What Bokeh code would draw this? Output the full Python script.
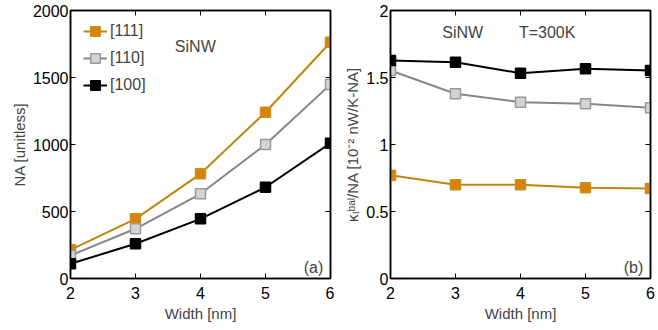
from bokeh.plotting import figure
from bokeh.layouts import row
from bokeh.models import (Legend, LegendItem, Label, LinearAxis, FixedTicker,
                          CustomJSTickFormatter, Range1d)
from bokeh.embed import file_html
from bokeh.resources import INLINE

width_nm = [2, 3, 4, 5, 6]
na_111 = [214, 445, 781, 1241, 1763]
na_110 = [172, 371, 632, 1000, 1448]
na_100 = [110, 259, 445, 681, 1010]
k_111 = [0.77, 0.70, 0.70, 0.678, 0.671]
k_110 = [1.552, 1.379, 1.316, 1.304, 1.274]
k_100 = [1.627, 1.614, 1.532, 1.565, 1.552]
series_names = ["[111]", "[110]", "[100]"]
x_ticks = [2, 3, 4, 5, 6]
y_ticks_a = [0, 500, 1000, 1500, 2000]
y_ticks_b = [0, 0.5, 1, 1.5, 2]

styles = {
    "[111]": dict(line="#C0860C", fill="#D9820A", edge="#C8901E"),
    "[110]": dict(line="#878787", fill="#D4D4D4", edge="#9A9A9A"),
    "[100]": dict(line="#000000", fill="#000000", edge="#000000"),
}

FONT = "Liberation Sans"
fmt = CustomJSTickFormatter(code="return tick.toString();")


def make_fig(fw, fh, bl, br, yr, yticks, ylabel):
    p = figure(frame_width=fw, frame_height=fh, output_backend="svg", toolbar_location=None,
               x_range=Range1d(2, 6), y_range=Range1d(*yr),
               min_border_left=bl, min_border_right=br, min_border_top=10,
               min_border_bottom=48, x_axis_location=None, y_axis_location=None)
    p.grid.visible = False
    p.outline_line_color = "black"
    p.outline_line_width = 1.5
    p.background_fill_color = "white"
    p.border_fill_color = "white"
    for loc in ["below", "left", "above", "right"]:
        ticks = x_ticks if loc in ("below", "above") else yticks
        ax = LinearAxis(ticker=FixedTicker(ticks=ticks), formatter=fmt)
        ax.major_tick_in = 5
        ax.major_tick_out = 0
        ax.minor_tick_line_color = None
        ax.axis_line_color = "black"
        ax.axis_line_width = 1.5
        ax.major_tick_line_color = "black"
        ax.major_tick_line_width = 1
        ax.major_label_text_font = FONT
        ax.major_label_text_font_size = "16px"
        ax.major_label_text_color = "black"
        ax.major_label_standoff = 2
        ax.axis_label_text_font = FONT
        ax.axis_label_text_font_size = "15px"
        ax.axis_label_text_font_style = "normal"
        ax.axis_label_standoff = 2
        if loc == "below":
            ax.axis_label = "Width [nm]"
            ax.major_label_standoff = 8
            ax.axis_label_standoff = 3
        elif loc == "left":
            ax.axis_label = ylabel
        else:
            ax.major_label_text_font_size = "0px"
            ax.major_label_text_color = None
            ax.major_label_standoff = 0
            ax.axis_label_standoff = 0
        p.add_layout(ax, loc)
    return p


def add_series(p, ys_list, legend=False):
    items = []
    for name, ys in zip(series_names, ys_list):
        st = styles[name]
        ln = p.line(width_nm, ys, line_color=st["line"], line_width=2)
        mk = p.scatter(width_nm, ys, marker="square", size=10,
                       fill_color=st["fill"], line_color=st["edge"], line_width=1.5)
        items.append(LegendItem(label=name, renderers=[ln, mk]))
    if legend:
        lg = Legend(items=items, location=(13, 180))
        lg.border_line_color = None
        lg.background_fill_alpha = 0
        lg.label_text_font = FONT
        lg.label_text_font_size = "16px"
        lg.glyph_width = 24
        lg.glyph_height = 26
        lg.label_height = 26
        lg.spacing = 1
        lg.padding = 0
        lg.margin = 0
        lg.label_standoff = 3
        p.add_layout(lg)


pa = make_fig(260, 268, 70, 4, (0, 2000), y_ticks_a, "NA [unitless]")
add_series(pa, [na_111, na_110, na_100], legend=True)
pa.add_layout(Label(x=3.92, y=1735, text="SiNW", text_font=FONT,
                    text_font_size="16px", text_align="center", text_baseline="middle"))
pa.add_layout(Label(x=5.89, y=22, text="(a)", text_font=FONT,
                    text_font_size="16px", text_align="right", text_baseline="bottom"))

pb = make_fig(260, 268, 56, 7, (0, 2), y_ticks_b,
              "κₗᵇᵃˡ/NA [10⁻² nW/K-NA]")
add_series(pb, [k_111, k_110, k_100])
pb.add_layout(Label(x=3.11, y=1.835, text="SiNW", text_font=FONT,
                    text_font_size="16px", text_align="center", text_baseline="middle"))
pb.add_layout(Label(x=4.41, y=1.835, text="T=300K", text_font=FONT,
                    text_font_size="16px", text_align="center", text_baseline="middle"))
pb.add_layout(Label(x=5.89, y=0.022, text="(b)", text_font=FONT,
                    text_font_size="16px", text_align="right", text_baseline="bottom"))

layout = row(pa, pb)
open("out.html", "w").write(file_html(layout, INLINE))
